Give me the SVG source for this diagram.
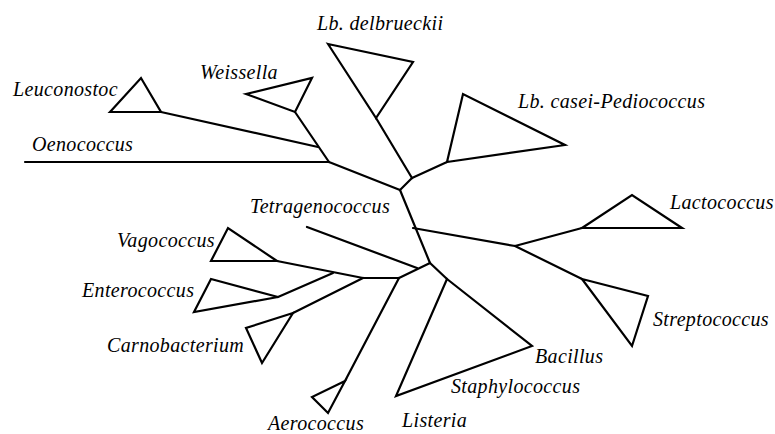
<svg xmlns="http://www.w3.org/2000/svg" width="775" height="434" viewBox="0 0 775 434">
<style>
.br{fill:none;stroke:#000;stroke-width:2.2;stroke-linecap:round;stroke-linejoin:round}
.tri{fill:none;stroke:#000;stroke-width:2.2;stroke-linejoin:miter}
.lb{font-family:"Liberation Serif","Times New Roman",serif;font-style:italic;font-size:20px;letter-spacing:0.35px;fill:#000}
</style>
<rect width="775" height="434" fill="#fff"/>
<g id="connectors" class="br">
<line x1="25" y1="162" x2="329" y2="162"/>
<line x1="329" y1="162" x2="400" y2="190"/>
<line x1="295" y1="112" x2="329" y2="162"/>
<line x1="161" y1="112" x2="318" y2="147"/>
<line x1="376" y1="118" x2="412" y2="178"/>
<line x1="412" y1="178" x2="447" y2="162"/>
<line x1="412" y1="178" x2="400" y2="190"/>
<line x1="400" y1="190" x2="430" y2="263"/>
<line x1="413" y1="228" x2="515" y2="246"/>
<line x1="515" y1="246" x2="582" y2="228"/>
<line x1="515" y1="246" x2="582" y2="279"/>
<line x1="430" y1="263" x2="447" y2="279"/>
<line x1="430" y1="263" x2="399" y2="278"/>
<line x1="399" y1="278" x2="363" y2="278"/>
<line x1="307" y1="227" x2="417" y2="268"/>
<line x1="399" y1="278" x2="345" y2="381"/>
<line x1="363" y1="278" x2="293" y2="313"/>
<line x1="363" y1="278" x2="277" y2="261"/>
<line x1="333" y1="273" x2="278" y2="297"/>
</g>
<g id="leuconostoc"><polygon class="tri" points="110,112 141,78 161,112"/><text class="lb" x="13" y="96">Leuconostoc</text></g>
<g id="oenococcus"><text class="lb" x="32" y="151">Oenococcus</text></g>
<g id="weissella"><polygon class="tri" points="246,94 312,78 295,112"/><text class="lb" x="200" y="79">Weissella</text></g>
<g id="lb-delbrueckii"><polygon class="tri" points="328,44 413,62 376,118"/><text class="lb" x="317" y="30">Lb. delbrueckii</text></g>
<g id="lb-casei"><polygon class="tri" points="447,162 463,94 565,145"/><text class="lb" x="518" y="108">Lb. casei-Pediococcus</text></g>
<g id="tetragenococcus"><text class="lb" x="250" y="213">Tetragenococcus</text></g>
<g id="lactococcus"><polygon class="tri" points="582,228 632,195 682,228"/><text class="lb" x="670" y="209">Lactococcus</text></g>
<g id="streptococcus"><polygon class="tri" points="582,279 648,296 632,346"/><text class="lb" x="653" y="326">Streptococcus</text></g>
<g id="bacillus-group"><polygon class="tri" points="447,279 532,346 396,396"/><text class="lb" x="535" y="363">Bacillus</text><text class="lb" x="451" y="393">Staphylococcus</text><text class="lb" x="402" y="427">Listeria</text></g>
<g id="vagococcus"><polygon class="tri" points="277,261 228,228 211,261"/><text class="lb" x="117" y="247">Vagococcus</text></g>
<g id="enterococcus"><polygon class="tri" points="278,297 211,279 194,312"/><text class="lb" x="82" y="297">Enterococcus</text></g>
<g id="carnobacterium"><polygon class="tri" points="293,313 246,328 262,363"/><text class="lb" x="107" y="352">Carnobacterium</text></g>
<g id="aerococcus"><polygon class="tri" points="345,381 312,397 328,413"/><text class="lb" x="268" y="430">Aerococcus</text></g>
</svg>
